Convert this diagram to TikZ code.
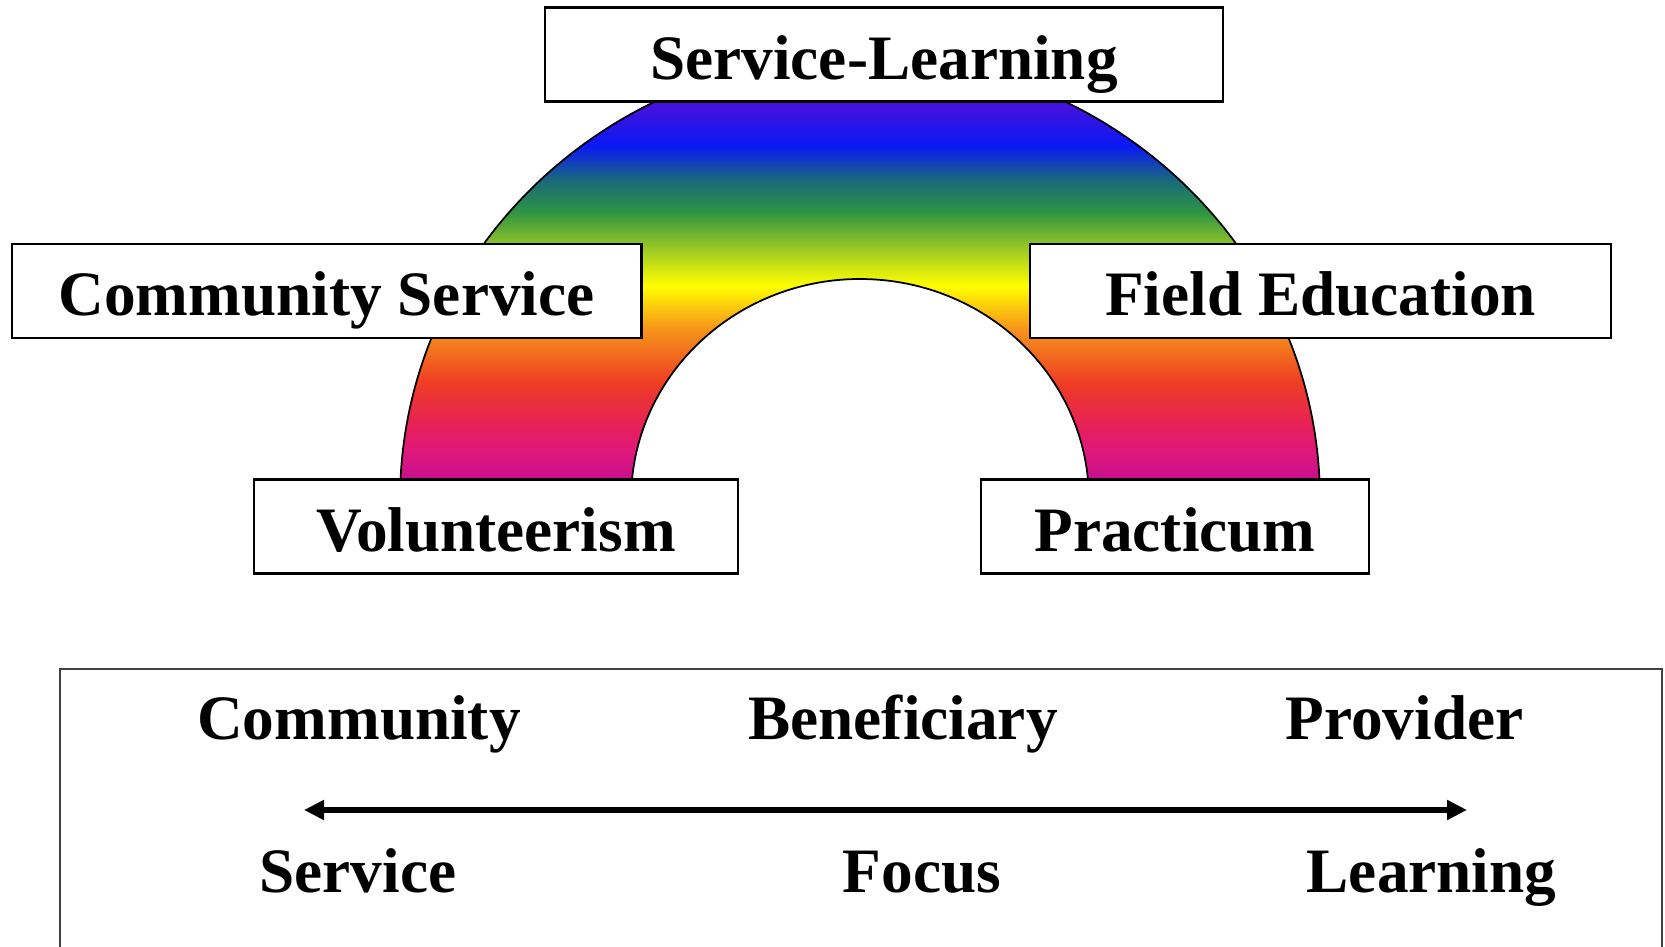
\documentclass[tikz,border=0pt]{standalone}
\usepackage{fontspec}
\setmainfont{Liberation Serif}
\usetikzlibrary{arrows.meta}

% colours of the band, bottom to top
\definecolor{bandA}{HTML}{C0108E}
\definecolor{bandB}{HTML}{C8108C}
\definecolor{bandC}{HTML}{E0187A}
\definecolor{bandD}{HTML}{E8244F}
\definecolor{bandE}{HTML}{EE3E22}
\definecolor{bandF}{HTML}{F7961A}
\definecolor{bandG}{HTML}{FFFF00}
\definecolor{bandH}{HTML}{A6CE22}
\definecolor{bandI}{HTML}{2E9444}
\definecolor{bandJ}{HTML}{1A6A7A}
\definecolor{bandK}{HTML}{0A18F5}
\definecolor{bandL}{HTML}{5010D8}
\definecolor{bandM}{HTML}{6010D0}

% 25bp = foot of the band, 75bp = its top
\pgfdeclareverticalshading{rainbowband}{100bp}{
  color(0bp)=(bandA); color(25bp)=(bandA); color(26.3bp)=(bandB);
  color(29.6bp)=(bandC); color(33bp)=(bandD); color(37.3bp)=(bandE);
  color(43.4bp)=(bandF); color(48.2bp)=(bandG); color(52bp)=(bandH);
  color(56.6bp)=(bandI); color(60.1bp)=(bandJ); color(64.1bp)=(bandK);
  color(69.6bp)=(bandL); color(75bp)=(bandM); color(100bp)=(bandM)}

\tikzset{tagbox/.style={
    rectangle,
    draw,
    line width=0.7pt,
    fill=white,
    font=\bfseries\fontsize{18}{22}\selectfont,
    text height=0.6cm,
    text depth=0.1cm,
    inner sep=0pt,
    minimum height=0.94cm
  },
  legendtext/.style={font=\bfseries\fontsize{18}{22}\selectfont,inner sep=0pt,anchor=base},
  bandline/.style={draw=black,line width=0.5pt},
  legendframe/.style={draw=black!75,line width=0.4pt},
  scalearrow/.style={line width=1.7pt,
    {Triangle[length=0.2cm,width=0.19cm]}-{Triangle[length=0.2cm,width=0.19cm]}},
}

\begin{document}
\begin{tikzpicture}
  \useasboundingbox (0,0) rectangle (16.65,9.47);

  % the rainbow
  \coordinate (hub) at (8.6,4.47);
  \shade[shading=rainbowband,bandline]
    ([shift={(1.29:4.6 and 4.45)}]hub)
      arc[start angle=1.29,end angle=178.71,x radius=4.6,y radius=4.45]
    -- ([shift={(177.41:2.29 and 2.21)}]hub)
      arc[start angle=177.41,end angle=2.59,x radius=2.29,y radius=2.21]
    -- cycle;

  % labels round the arc
  \node [tagbox,minimum width=6.785cm] (servlearn) at (8.84,8.925) {Service-Learning};
  \node [tagbox,minimum width=6.297cm] (commserv) at (3.266,6.56) {Community Service};
  \node [tagbox,minimum width=5.81cm] (fieldedu) at (13.205,6.56) {Field Education};
  \node [tagbox,minimum width=4.84cm] (volunt) at (4.96,4.205) {Volunteerism};
  \node [tagbox,minimum width=3.88cm] (practic) at (11.75,4.205) {Practicum};

  % legend below
  \draw[legendframe] (0.6,-0.2) rectangle (16.62,2.78);
  \node [legendtext] (community) at (3.59,2.07) {Community};
  \node [legendtext] (benefic) at (9.03,2.07) {Beneficiary};
  \node [legendtext] (provider) at (14.045,2.07) {Provider};
  \node [legendtext] (service) at (3.58,0.54) {Service};
  \node [legendtext] (focus) at (9.22,0.54) {Focus};
  \node [legendtext] (learning) at (14.315,0.54) {Learning};

  \coordinate (leftend) at (3.04,1.37);
  \coordinate (rightend) at (14.67,1.37);
  \draw[scalearrow] (leftend) -- (rightend);
\end{tikzpicture}
\end{document}
